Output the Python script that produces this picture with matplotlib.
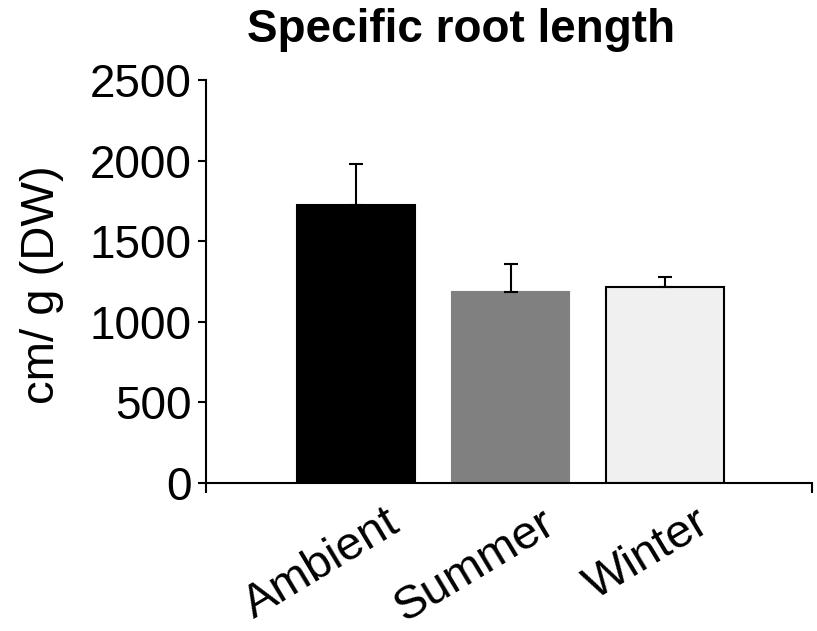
import matplotlib.pyplot as plt
from matplotlib.transforms import ScaledTranslation

plt.rcParams['font.family'] = ['Liberation Sans', 'DejaVu Sans']

treatments = ['Ambient', 'Summer', 'Winter']
srl_mean = [1725, 1185, 1214]
srl_se = [255, 175, 66]
bar_colors = ['#000000', '#808080', '#f0f0f0']
edge_colors = ['#000000', '#808080', '#000000']

fig = plt.figure(figsize=(8.17, 6.31), dpi=100)
ax = fig.add_axes([0.252, 0.2345, 0.742, 0.6385])

x = range(len(treatments))
ax.bar(x, srl_mean, width=0.76, color=bar_colors, edgecolor=edge_colors,
       linewidth=1.5, zorder=2)
ax.errorbar(x, srl_mean, yerr=[[0] * len(srl_se), srl_se], fmt='none',
            ecolor='black', elinewidth=1.5, capsize=5, capthick=1.5, zorder=3)

ax.set_xlim(-0.97, 2.95)
ax.set_ylim(0, 2500)
ax.set_yticks(range(0, 2501, 500))
ax.tick_params(axis='y', labelsize=33, length=6, width=1.5, direction='out', pad=4)

# ticks only at the ends of the category axis, names as minor labels
ax.set_xticks(ax.get_xlim())
ax.set_xticklabels(['', ''])
ax.tick_params(axis='x', which='major', length=7, width=1.5, direction='out')
ax.set_xticks(list(x), minor=True)
ax.set_xticklabels(treatments, minor=True, rotation=31, ha='right', va='top',
                   fontsize=34)
ax.tick_params(axis='x', which='minor', length=0, pad=13)
for lab in ax.get_xticklabels(minor=True):
    lab.set_transform(lab.get_transform() + ScaledTranslation(0.52, 0, fig.dpi_scale_trans))

for side in ['top', 'right']:
    ax.spines[side].set_visible(False)
for side in ['left', 'bottom']:
    ax.spines[side].set_linewidth(1.5)

fig.text(42 / 817, 1 - 285 / 631, 'cm/ g (DW)', rotation=90, ha='center',
         va='center', fontsize=34)
fig.text(461 / 817, 1 - 42 / 631, 'Specific root length', ha='center',
         va='baseline', fontsize=33, fontweight='bold')

fig.savefig('out.png', dpi=100)
